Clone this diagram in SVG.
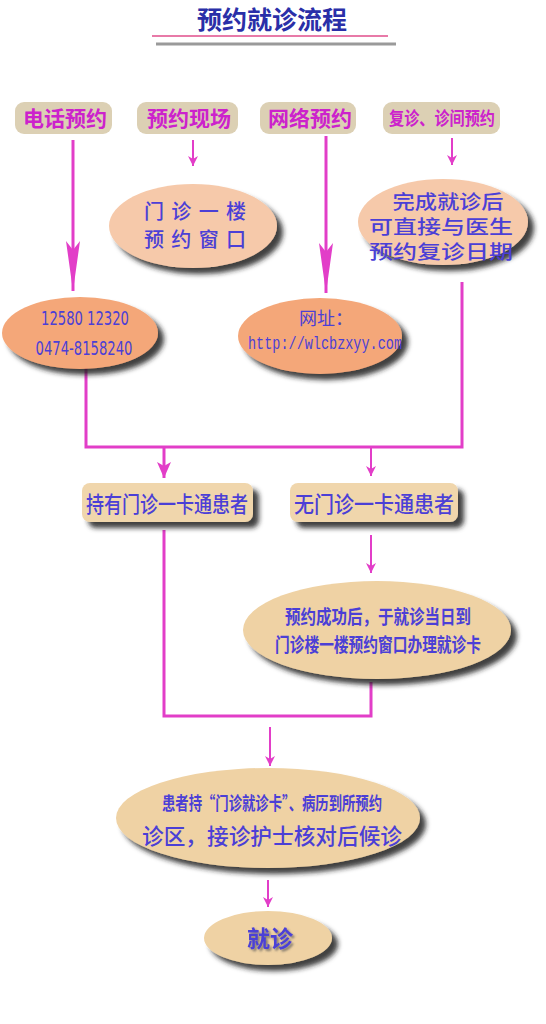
<svg xmlns="http://www.w3.org/2000/svg" width="546" height="1024" viewBox="0 0 546 1024">
<style>
.cjk{font-family:"Noto Sans CJK SC","Liberation Sans",sans-serif}
.top{fill:#dcd0b4}
.topt{fill:#cc22cc;font-size:21px;font-weight:bold;text-anchor:middle}
.ell1{fill:#f6c9aa}
.ell2{fill:#f4a779}
.ell3{fill:#efd2a4}
.bt{fill:#4b3fd6;text-anchor:middle}
.box{fill:#f0d6ac}
.con{fill:none;stroke:#e23ec8;stroke-width:3}
.thin{fill:none;stroke:#e23ec8;stroke-width:2}
.num{font-family:"DejaVu Sans Condensed","Liberation Sans Narrow",sans-serif}
</style>
<defs>
<filter id="sh" x="-20%" y="-30%" width="150%" height="180%">
<feDropShadow dx="6" dy="6" stdDeviation="2.5" flood-color="#1a1a1a" flood-opacity="0.85"/>
</filter>
<filter id="tsh" x="-20%" y="-30%" width="150%" height="180%">
<feDropShadow dx="2" dy="2" stdDeviation="1" flood-color="#555" flood-opacity="0.7"/>
</filter>
<marker id="long" markerUnits="userSpaceOnUse" markerWidth="52" markerHeight="16" viewBox="0 -8 52 16" refX="50" refY="0" orient="auto">
<path d="M0,-7 L50,0 L0,7 L9,0 Z" fill="#e23ec8"/>
</marker>
<marker id="mid" markerUnits="userSpaceOnUse" markerWidth="18" markerHeight="16" viewBox="0 -8 18 16" refX="16" refY="0" orient="auto">
<path d="M0,-7 L16,0 L0,7 L4,0 Z" fill="#e23ec8"/>
</marker>
<marker id="small" markerUnits="userSpaceOnUse" markerWidth="12" markerHeight="12" viewBox="0 -6 12 12" refX="10" refY="0" orient="auto">
<path d="M0,-5 L10,0 L0,5 L3,0 Z" fill="#e23ec8"/>
</marker>
</defs>
<rect width="546" height="1024" fill="#ffffff"/>

<g id="title">
<text x="272" y="29" class="cjk" font-size="25" font-weight="bold" fill="#2a2fa8" text-anchor="middle">预约就诊流程</text>
<line x1="152" y1="36" x2="388" y2="36" stroke="#e87aa8" stroke-width="2"/>
<line x1="156" y1="44" x2="396" y2="44" stroke="#9a9a9a" stroke-width="3"/>
</g>

<g id="connectors">
<line x1="73" y1="140" x2="73" y2="291" class="con" marker-end="url(#long)"/>
<line x1="193" y1="140" x2="193" y2="166" class="thin" marker-end="url(#small)"/>
<line x1="326" y1="136" x2="326" y2="293" class="con" marker-end="url(#long)"/>
<line x1="452" y1="138" x2="452" y2="165" class="thin" marker-end="url(#small)"/>
<polyline points="86,368 86,447 462,447 462,282" class="con"/>
<line x1="164" y1="447" x2="164" y2="478" class="con" marker-end="url(#mid)"/>
<line x1="371" y1="447" x2="371" y2="476" class="thin" marker-end="url(#small)"/>
<polyline points="164,530 164,716 371,716 371,682" class="con" stroke="#e05ab8"/>
<line x1="371" y1="535" x2="371" y2="573" class="thin" marker-end="url(#small)"/>
<line x1="270" y1="727" x2="270" y2="766" class="thin" marker-end="url(#small)"/>
<line x1="268" y1="880" x2="268" y2="907" class="thin" marker-end="url(#small)"/>
</g>

<g id="n-phone">
<rect x="15" y="102" width="97" height="32" rx="9" class="top"/>
<text x="65" y="126" class="cjk topt">电话预约</text>
</g>
<g id="n-onsite">
<rect x="137" y="102" width="101" height="32" rx="9" class="top"/>
<text x="189" y="126" class="cjk topt">预约现场</text>
</g>
<g id="n-web">
<rect x="260" y="102" width="96" height="32" rx="9" class="top"/>
<text x="310" y="126" class="cjk topt">网络预约</text>
</g>
<g id="n-revisit">
<rect x="383" y="102" width="117" height="32" rx="9" class="top"/>
<text x="442" y="125" class="cjk topt" style="font-size:18px" textLength="106" lengthAdjust="spacingAndGlyphs">复诊、诊间预约</text>
</g>

<g id="n-window">
<ellipse cx="193" cy="226" rx="84" ry="42" class="ell1" filter="url(#sh)"/>
<text class="cjk bt" font-size="20" font-weight="500" x="195" y="219" textLength="102" lengthAdjust="spacing">门诊一楼</text>
<text class="cjk bt" font-size="20" font-weight="500" x="195" y="247" textLength="102" lengthAdjust="spacing">预约窗口</text>
</g>
<g id="n-doctor">
<ellipse cx="443" cy="222" rx="85" ry="43" class="ell1" filter="url(#sh)"/>
<text class="cjk bt" font-size="19" font-weight="500" x="448" y="209" textLength="111" lengthAdjust="spacingAndGlyphs">完成就诊后</text>
<text class="cjk bt" font-size="19" font-weight="500" x="441" y="234" textLength="144" lengthAdjust="spacingAndGlyphs">可直接与医生</text>
<text class="cjk bt" font-size="19" font-weight="500" x="441" y="259" textLength="144" lengthAdjust="spacingAndGlyphs">预约复诊日期</text>
</g>
<g id="n-tel">
<ellipse cx="80" cy="333" rx="78" ry="36" class="ell2" filter="url(#sh)"/>
<text class="bt num" font-size="19" x="85" y="325" textLength="88" lengthAdjust="spacingAndGlyphs">12580  12320</text>
<text class="bt num" font-size="19" x="84" y="355" textLength="97" lengthAdjust="spacingAndGlyphs">0474-8158240</text>
</g>
<g id="n-url">
<ellipse cx="320" cy="336" rx="82" ry="38" class="ell2" filter="url(#sh)"/>
<text class="cjk bt" font-size="18" x="326" y="325">网址：</text>
<text class="bt" font-family="'Liberation Mono',monospace" font-size="18" x="325" y="349" textLength="154" lengthAdjust="spacingAndGlyphs">http://wlcbzxyy.com</text>
</g>

<g id="n-card">
<rect x="82" y="483" width="171" height="39" rx="8" class="box" filter="url(#sh)"/>
<text x="167" y="512" class="cjk bt" font-size="22" font-weight="500" fill="#3535cc" textLength="162" lengthAdjust="spacingAndGlyphs">持有门诊一卡通患者</text>
</g>
<g id="n-nocard">
<rect x="290" y="483" width="168" height="39" rx="8" class="box" filter="url(#sh)"/>
<text x="374" y="512" class="cjk bt" font-size="22" font-weight="500" fill="#3535cc" textLength="160" lengthAdjust="spacingAndGlyphs">无门诊一卡通患者</text>
</g>

<g id="n-success">
<ellipse cx="377" cy="630" rx="134" ry="49" class="ell3" filter="url(#sh)"/>
<text class="cjk bt" font-size="19" font-weight="bold" fill="#3a3ad0" x="378" y="624" textLength="186" lengthAdjust="spacingAndGlyphs">预约成功后，于就诊当日到</text>
<text class="cjk bt" font-size="19" font-weight="bold" fill="#3a3ad0" x="378" y="652" textLength="206" lengthAdjust="spacingAndGlyphs">门诊楼一楼预约窗口办理就诊卡</text>
</g>

<g id="n-wait">
<ellipse cx="268" cy="818" rx="152" ry="50" class="ell3" filter="url(#sh)"/>
<text class="cjk bt" font-size="18" font-weight="bold" fill="#3a3ad0" x="272" y="810" textLength="220" lengthAdjust="spacingAndGlyphs">患者持“门诊就诊卡”、病历到所预约</text>
<text class="cjk bt" font-size="22" font-weight="500" fill="#3a3ad0" x="272" y="844" textLength="260" lengthAdjust="spacingAndGlyphs">诊区，接诊护士核对后候诊</text>
</g>

<g id="n-visit">
<ellipse cx="268" cy="938" rx="64" ry="27" class="ell3" filter="url(#sh)"/>
<text x="270" y="947" class="cjk bt" font-size="23" font-weight="bold" fill="#2f2fc8" filter="url(#tsh)">就诊</text>
</g>
</svg>
